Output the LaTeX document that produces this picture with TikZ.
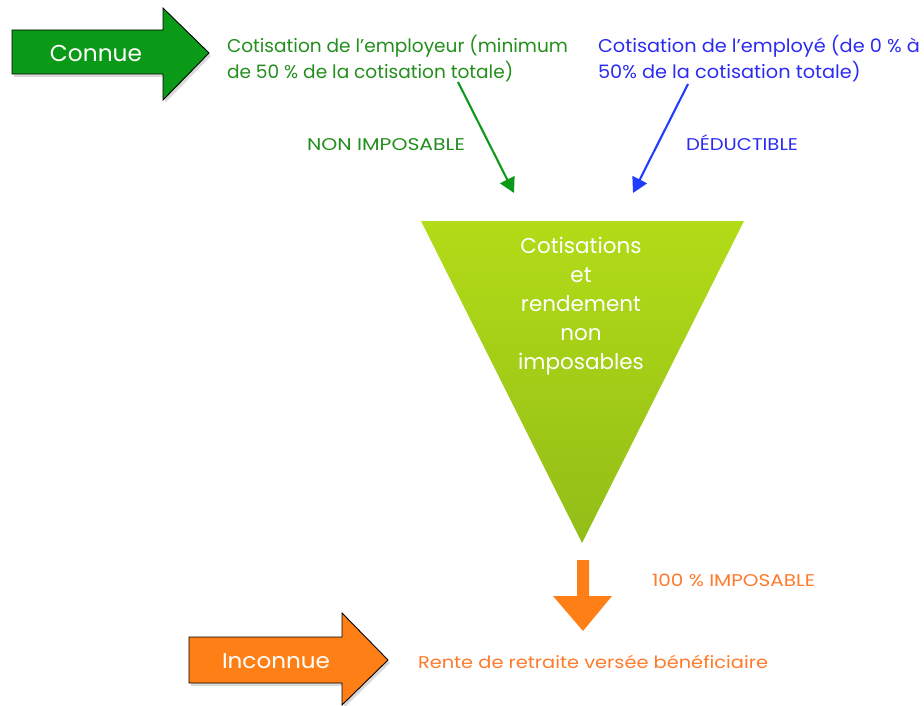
\documentclass[tikz,border=0pt]{standalone}
\usepackage{fontspec}
\usepackage{graphicx}
\setmainfont{Poppins}
\usetikzlibrary{arrows.meta,shadings}
\definecolor{cgreen}{HTML}{0B9A17}
\definecolor{tgreen}{HTML}{238E1C}
\definecolor{tblue}{HTML}{2B2BF2}
\definecolor{ablue}{HTML}{1F3CFF}
\definecolor{orng}{HTML}{FF7F17}
\definecolor{torng}{HTML}{FF7A2A}
\definecolor{tritop}{HTML}{B2DC17}
\definecolor{tribot}{HTML}{92BD17}
\newcommand\fitw[2]{\resizebox{#1}{\height}{#2}}
\tikzset{
  every node/.style={inner sep=0pt, outer sep=0pt},
  bigarrow/.style={draw=black, line width=0.9pt, line join=miter},
  shadowarrow/.style={fill=black!15},
  small/.style={font=\fontsize{18.5}{25}\selectfont},
  label/.style={font=\fontsize{17}{20}\selectfont},
  link/.style={line width=2.1pt, -{Triangle[length=15pt,width=16pt]}},
}
\begin{document}
\begin{tikzpicture}[x=1pt,y=-1pt]
\useasboundingbox (0,0) rectangle (924,706);
% Connue arrow
\fill[shadowarrow] (14,33)--(165,33)--(165,11)--(211,56)--(165,103)--(165,77)--(14,77)--cycle;
\draw[bigarrow, fill=cgreen] (12,30)--(163,30)--(163,8)--(209,53)--(163,100)--(163,74)--(12,74)--cycle;
\node[font=\fontsize{23}{23}\selectfont, text=white, anchor=base] (connue) at (96,62) {\fitw{92pt}{Connue}};
% Inconnue arrow
\fill[shadowarrow] (191,640)--(344,640)--(344,616)--(390,663)--(344,708)--(344,686)--(191,686)--cycle;
\draw[bigarrow, fill=orng] (189,637)--(342,637)--(342,613)--(388,660)--(342,705)--(342,683)--(189,683)--cycle;
\node[font=\fontsize{21.5}{21.5}\selectfont, text=white, anchor=base] (inconnue) at (276,668) {\fitw{108pt}{Inconnue}};
% texts
\node[small, text=tgreen, anchor=base west] (empr) at (227,53) {\fitw{341pt}{\begin{tabular}[t]{@{}l@{}}Cotisation de l’employeur (minimum\\de 50 \% de la cotisation totale)\end{tabular}}};
\node[small, text=tblue, anchor=base west] (empe) at (598,53) {\fitw{322pt}{\begin{tabular}[t]{@{}l@{}}Cotisation de l’employé (de 0 \% à\\50\% de la cotisation totale)\end{tabular}}};
\node[label, text=tgreen, anchor=base west] (nonimp) at (307,150) {\fitw{158pt}{NON IMPOSABLE}};
\node[label, text=tblue, anchor=base west] (deduc) at (686,150) {\fitw{112pt}{DÉDUCTIBLE}};
% triangle
\shade[top color=tritop, bottom color=tribot] (421,221) -- (744,221) -- (582,543) -- cycle;
\node[font=\fontsize{21.5}{29}\selectfont, text=white, anchor=base] (tri) at (581,253) {\begin{tabular}[t]{@{}c@{}}Cotisations\\et\\rendement\\non\\imposables\end{tabular}};
% links
\coordinate (gs) at (458,82);
\coordinate (ge) at (514,193);
\coordinate (bs) at (688,84);
\coordinate (be) at (633,193);
\draw[link, draw=cgreen, fill=cgreen] (gs) -- (ge);
\draw[link, draw=ablue, fill=ablue] (bs) -- (be);
% orange down arrow
\fill[orng] (577,560) -- (589,560) -- (589,596) -- (612,596) -- (583,631) -- (553,596) -- (577,596) -- cycle;
\node[label, text=torng, anchor=base west] (imp) at (652,586) {\fitw{163pt}{100 \% IMPOSABLE}};
\node[label, text=torng, anchor=base west] (rente) at (418,668) {\fitw{350pt}{Rente de retraite versée bénéficiaire}};
\end{tikzpicture}
\end{document}
